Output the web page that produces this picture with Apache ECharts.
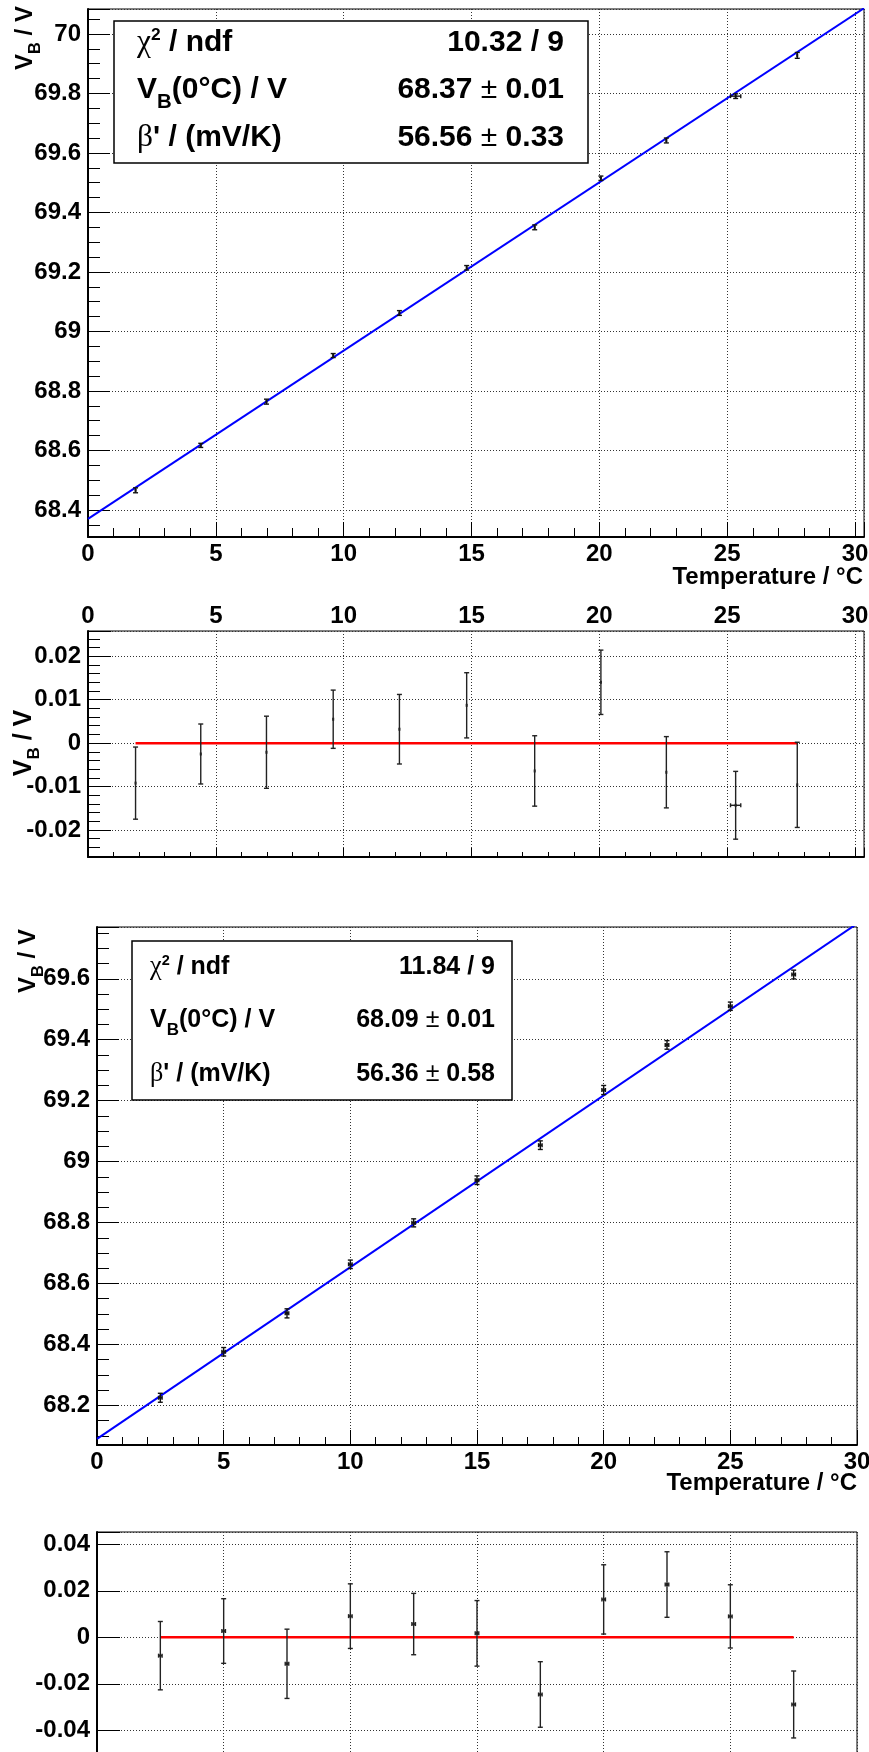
<!DOCTYPE html>
<html>
<head>
<meta charset="utf-8">
<script src="https://cdn.jsdelivr.net/npm/echarts@6/dist/echarts.min.js"></script>
<style>
  html, body { margin: 0; padding: 0; background: #fff; }
  #c { width: 869px; height: 1752px; }
</style>
</head>
<body>
<div id="c"></div>
<script>
// ---- Run A: breakdown voltage vs. temperature (uneven temperature steps) ----
const tempA     = [1.86, 4.41, 6.98, 9.59, 12.18, 14.81, 17.47, 20.06, 22.62, 25.33, 27.74];
const tempErrA  = [0, 0, 0, 0, 0, 0, 0, 0, 0, 0.2, 0];
const voltA     = [68.466, 68.617, 68.764, 68.919, 69.062, 69.214, 69.350, 69.515, 69.642, 69.791, 69.928];
const voltErrA  = [0.0083, 0.0069, 0.0083, 0.0067, 0.0080, 0.0075, 0.0081, 0.0074, 0.0082, 0.0078, 0.0098];
const residA    = [-0.0092, -0.0025, -0.0021, 0.0055, 0.0032, 0.0087, -0.0064, 0.0140, -0.0067, -0.0143, -0.0096];
const fitA      = { chi2: 10.32, ndf: 9, v0: 68.37, v0Err: 0.01, beta: 56.56, betaErr: 0.33 };

// ---- Run B: breakdown voltage vs. temperature (2.5 degC steps) ----
const tempB     = [2.5, 5, 7.5, 10, 12.5, 15, 17.5, 20, 22.5, 25, 27.5];
const tempErrB  = [0.07, 0.07, 0.07, 0.07, 0.07, 0.07, 0.07, 0.07, 0.07, 0.07, 0.07];
const voltB     = [68.225, 68.376, 68.502, 68.663, 68.799, 68.939, 69.054, 69.235, 69.383, 69.510, 69.614];
const voltErrB  = [0.0147, 0.0139, 0.0149, 0.0139, 0.0132, 0.0141, 0.0141, 0.0149, 0.0141, 0.0136, 0.0144];
const residB    = [-0.0079, 0.0027, -0.0114, 0.0091, 0.0057, 0.0017, -0.0246, 0.0163, 0.0227, 0.0090, -0.0289];
const fitB      = { chi2: 11.84, ndf: 9, v0: 68.09, v0Err: 0.01, beta: 56.36, betaErr: 0.58 };

// Axis ranges and tick steps
const rangeA  = { xMin: 0, xMax: 30.35, yMin: 68.309, yMax: 70.084, yStep: 0.2, rMin: -0.0262, rMax: 0.0258, rStep: 0.01 };
const rangeB  = { xMin: 0, xMax: 30, yMin: 68.07, yMax: 69.77, yStep: 0.2, rMin: -0.0601, rMax: 0.0453, rStep: 0.02 };
const xStep = 5;

const SANS  = '"Liberation Sans", Arial, Helvetica, sans-serif';
const SERIF = '"Liberation Serif", "DejaVu Serif", serif';
const LABEL_FS = 24;

// tick label: show only exact multiples of the step
function tickFmt(step, digits) {
  return function (v) {
    const k = Math.round(v / step);
    if (Math.abs(v - k * step) > step * 1e-6) return '';
    return String(+(k * step).toFixed(digits));
  };
}

function valueAxis(o) {
  return {
    type: 'value',
    gridIndex: o.grid,
    position: o.pos,
    min: o.min,
    max: o.max,
    minInterval: o.step,
    maxInterval: o.step,
    splitNumber: Math.max(1, Math.round((o.max - o.min) / o.step)),
    axisLine: { show: o.line !== false, onZero: false, lineStyle: { color: '#000', width: 2 } },
    axisTick: { show: o.tickLen > 0, inside: true, length: o.tickLen || 0, lineStyle: { color: '#000', width: 1 } },
    minorTick: { show: !!o.minor, splitNumber: o.minor || 5, length: o.minorLen || 0, lineStyle: { color: '#000', width: 1 } },
    splitLine: { show: o.split !== false, lineStyle: { color: '#333', width: 1, type: [1, 2] } },
    axisLabel: {
      show: o.labels !== false,
      margin: o.margin,
      color: '#000',
      fontFamily: SANS,
      fontWeight: 'bold',
      fontSize: LABEL_FS,
      formatter: tickFmt(o.step, o.digits)
    }
  };
}

function pts(xs, ys, exs, eys) {
  return xs.map(function (x, i) { return [x, ys[i], exs[i], eys[i]]; });
}

// points with x and y error bars
function errorBars(color) {
  return function (params, api) {
    const x = api.value(0), y = api.value(1), ex = api.value(2), ey = api.value(3);
    const c = api.coord([x, y]);
    const t = api.coord([x, y + ey]);
    const b = api.coord([x, y - ey]);
    const l = api.coord([x - ex, y]);
    const r = api.coord([x + ex, y]);
    const cap = 2.5;
    const st = { stroke: color, lineWidth: 1.4 };
    const ch = [
      { type: 'line', shape: { x1: c[0], y1: t[1], x2: c[0], y2: b[1] }, style: st },
      { type: 'line', shape: { x1: c[0] - cap, y1: t[1], x2: c[0] + cap, y2: t[1] }, style: st },
      { type: 'line', shape: { x1: c[0] - cap, y1: b[1], x2: c[0] + cap, y2: b[1] }, style: st },
      { type: 'rect', shape: { x: c[0] - 1, y: c[1] - 1.5, width: 2, height: 3 }, style: { fill: color } }
    ];
    if (r[0] - l[0] > 1) {
      ch.push({ type: 'line', shape: { x1: l[0], y1: c[1], x2: r[0], y2: c[1] }, style: st });
      ch.push({ type: 'line', shape: { x1: l[0], y1: c[1] - 2, x2: l[0], y2: c[1] + 2 }, style: st });
      ch.push({ type: 'line', shape: { x1: r[0], y1: c[1] - 2, x2: r[0], y2: c[1] + 2 }, style: st });
    }
    return { type: 'group', children: ch };
  };
}

function fitLine(fit, x0, x1) {
  return [[x0, fit.v0 + fit.beta / 1000 * x0], [x1, fit.v0 + fit.beta / 1000 * x1]];
}

// ---- text helpers ----
function rich(fs) {
  return {
    b:   { fontFamily: SANS, fontWeight: 'bold', fontSize: fs, color: '#000' },
    g:   { fontFamily: SERIF, fontWeight: 'normal', fontSize: fs * 1.05, color: '#000' },
    pm:  { fontFamily: SANS, fontWeight: 'normal', fontSize: fs, color: '#000' },
    sup: { fontFamily: SANS, fontWeight: 'bold', fontSize: fs * 0.58, color: '#000', padding: [0, 0, fs * 0.5, 0] },
    sub: { fontFamily: SANS, fontWeight: 'bold', fontSize: fs * 0.68, color: '#000', padding: [fs * 0.85, 0, 0, 0] }
  };
}

function textEl(x, y, text, fs, align, rot) {
  return {
    type: 'text', x: x, y: y, rotation: rot || 0, z: 110,
    style: { text: text, rich: rich(fs), align: align || 'left', verticalAlign: 'middle', fill: '#000',
             font: 'bold ' + fs + 'px ' + SANS }
  };
}

function statsBox(fit, box, fs, labelX, valueX, rowY) {
  const pm = function (v, e) { return '{b|' + v.toFixed(2) + ' }{pm|±}{b| ' + e.toFixed(2) + '}'; };
  return [
    { type: 'rect', z: 105, shape: box, style: { fill: '#fff', stroke: '#000', lineWidth: 1.5 } },
    textEl(labelX, rowY[0], '{g|χ}{sup|2}{b| / ndf}', fs),
    textEl(labelX, rowY[1], '{b|V}{sub|B}{b|(0°C) / V}', fs),
    textEl(labelX, rowY[2], "{g|β}{b|' / (mV/K)}", fs),
    textEl(valueX, rowY[0], '{b|' + fit.chi2.toFixed(2) + ' / ' + fit.ndf + '}', fs, 'right'),
    textEl(valueX, rowY[1], pm(fit.v0, fit.v0Err), fs, 'right'),
    textEl(valueX, rowY[2], pm(fit.beta, fit.betaErr), fs, 'right')
  ];
}

const yTitle = '{b|V}{sub|B}{b| / V}';
const xTitle = '{b|Temperature / °C}';

const grids = [
  { left: 88, top: 9,    width: 776, height: 528 },
  { left: 88, top: 631,  width: 776, height: 226 },
  { left: 97, top: 927,  width: 760, height: 518 },
  { left: 97, top: 1532, width: 760, height: 245 }
].map(function (g) {
  return Object.assign({ show: true, borderColor: '#000', borderWidth: 1, backgroundColor: 'transparent',
                         containLabel: false, outerBoundsMode: 'none' }, g);
});

const option = {
  animation: false,
  backgroundColor: '#fff',
  grid: grids,
  xAxis: [
    valueAxis({ grid: 0, pos: 'bottom', min: rangeA.xMin, max: rangeA.xMax, step: xStep, digits: 0,
                tickLen: 15, minor: 5, minorLen: 9, margin: 5 }),
    valueAxis({ grid: 1, pos: 'bottom', min: rangeA.xMin, max: rangeA.xMax, step: xStep, digits: 0,
                tickLen: 9, minor: 5, minorLen: 5, labels: false }),
    valueAxis({ grid: 1, pos: 'top', min: rangeA.xMin, max: rangeA.xMax, step: xStep, digits: 0,
                tickLen: 0, line: false, split: false, margin: 3 }),
    valueAxis({ grid: 2, pos: 'bottom', min: rangeB.xMin, max: rangeB.xMax, step: xStep, digits: 0,
                tickLen: 15, minor: 5, minorLen: 8, margin: 5 }),
    valueAxis({ grid: 3, pos: 'bottom', min: rangeB.xMin, max: rangeB.xMax, step: xStep, digits: 0,
                tickLen: 15, minor: 5, minorLen: 8, labels: false })
  ],
  yAxis: [
    valueAxis({ grid: 0, pos: 'left', min: rangeA.yMin, max: rangeA.yMax, step: rangeA.yStep, digits: 1,
                tickLen: 22, minor: 4, minorLen: 12, margin: 7 }),
    valueAxis({ grid: 1, pos: 'left', min: rangeA.rMin, max: rangeA.rMax, step: rangeA.rStep, digits: 2,
                tickLen: 23, minor: 5, minorLen: 12, margin: 7 }),
    valueAxis({ grid: 2, pos: 'left', min: rangeB.yMin, max: rangeB.yMax, step: rangeB.yStep, digits: 1,
                tickLen: 22, minor: 4, minorLen: 12, margin: 7 }),
    valueAxis({ grid: 3, pos: 'left', min: rangeB.rMin, max: rangeB.rMax, step: rangeB.rStep, digits: 2,
                tickLen: 23, margin: 7 })
  ],
  series: [
    { type: 'line', xAxisIndex: 0, yAxisIndex: 0, data: fitLine(fitA, rangeA.xMin, rangeA.xMax),
      showSymbol: false, lineStyle: { color: '#0000ff', width: 2 }, z: 3, silent: true },
    { type: 'custom', xAxisIndex: 0, yAxisIndex: 0, data: pts(tempA, voltA, tempErrA, voltErrA),
      renderItem: errorBars('#111'), encode: { x: 0, y: 1 }, z: 4 },

    { type: 'line', xAxisIndex: 1, yAxisIndex: 1,
      data: [[tempA[0], 0], [tempA[tempA.length - 1], 0]],
      showSymbol: false, lineStyle: { color: '#ff0000', width: 2.5 }, z: 3, silent: true },
    { type: 'custom', xAxisIndex: 1, yAxisIndex: 1, data: pts(tempA, residA, tempErrA, voltErrA),
      renderItem: errorBars('#222'), encode: { x: 0, y: 1 }, z: 4 },

    { type: 'line', xAxisIndex: 3, yAxisIndex: 2, data: fitLine(fitB, rangeB.xMin, rangeB.xMax),
      showSymbol: false, lineStyle: { color: '#0000ff', width: 2 }, z: 3, silent: true },
    { type: 'custom', xAxisIndex: 3, yAxisIndex: 2, data: pts(tempB, voltB, tempErrB, voltErrB),
      renderItem: errorBars('#111'), encode: { x: 0, y: 1 }, z: 4 },

    { type: 'line', xAxisIndex: 4, yAxisIndex: 3,
      data: [[tempB[0], 0], [tempB[tempB.length - 1], 0]],
      showSymbol: false, lineStyle: { color: '#ff0000', width: 2.5 }, z: 3, silent: true },
    { type: 'custom', xAxisIndex: 4, yAxisIndex: 3, data: pts(tempB, residB, tempErrB, voltErrB),
      renderItem: errorBars('#222'), encode: { x: 0, y: 1 }, z: 4 }
  ],
  graphic: [].concat(
    statsBox(fitA, { x: 114, y: 21, width: 474, height: 142 }, 30, 137, 564, [43, 90, 138]),
    statsBox(fitB, { x: 132, y: 941, width: 380, height: 159 }, 25, 150, 495, [967, 1020, 1074]),
    [
      textEl(25, 38, yTitle, 24, 'center', Math.PI / 2),
      textEl(24, 743, yTitle, 25, 'center', Math.PI / 2),
      textEl(28, 961, yTitle, 24, 'center', Math.PI / 2),
      textEl(863, 577, xTitle, 24, 'right'),
      textEl(857, 1483, xTitle, 24, 'right')
    ]
  )
};

const chart = echarts.init(document.getElementById('c'), null, { renderer: 'canvas', width: 869, height: 1752 });
chart.setOption(option);
</script>
</body>
</html>
